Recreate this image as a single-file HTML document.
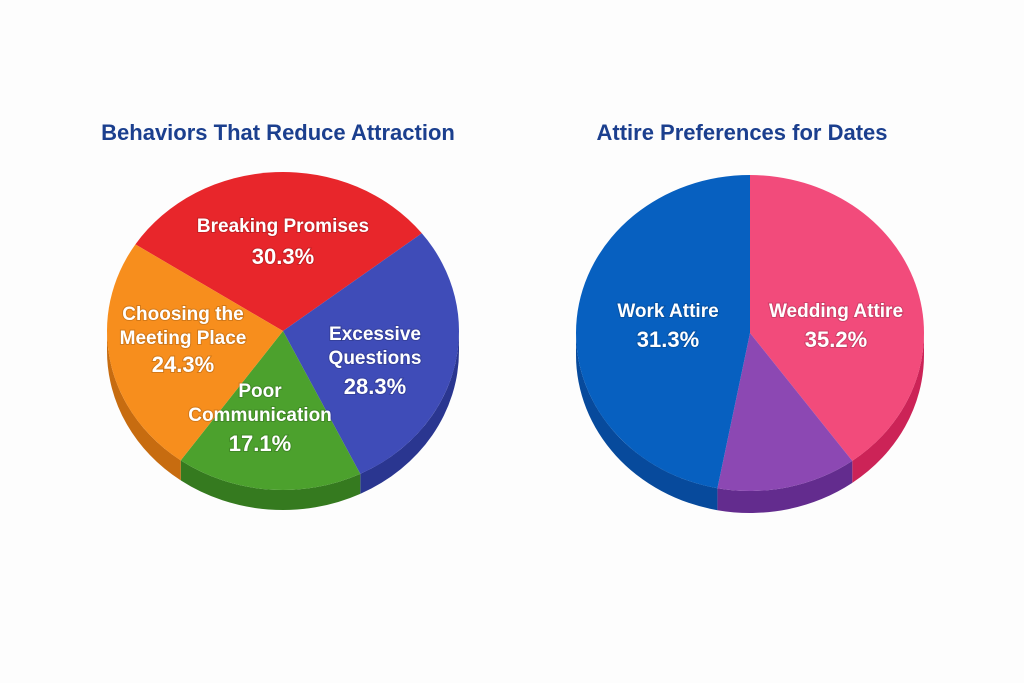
<!DOCTYPE html>
<html><head><meta charset="utf-8"><style>
html,body{margin:0;padding:0;background:#fdfdfd;}
svg{display:block;font-family:"Liberation Sans",sans-serif;}
.t{fill:#1b3f8e;font-weight:bold;font-size:22px;text-anchor:middle;}
.l{fill:#fff;font-weight:bold;font-size:19px;text-anchor:middle;paint-order:stroke;stroke:rgba(0,0,0,0.15);stroke-width:2px;}
.p{font-size:22px;}
</style></head><body>
<svg id="c" width="1024" height="683" viewBox="0 0 1024 683">
<text class="t" x="278" y="140">Behaviors That Reduce Attraction</text>
<text class="t" x="742" y="140">Attire Preferences for Dates</text>
<g id="left"></g>
<g id="right"></g>
</svg>
<script>
// Left pie data
const leftCategories = ["Breaking Promises","Excessive Questions","Poor Communication","Choosing the Meeting Place"];
const leftValues = [30.3, 28.3, 17.1, 24.3];
// Right pie data (drawn shares)
const rightCategories = ["Wedding Attire","Other","Work Attire"];
const rightValues = [40, 13, 47];
const rightPrinted = ["35.2%", "", "31.3%"];

const NS="http://www.w3.org/2000/svg";
function mk(tag,attrs,parent){const e=document.createElementNS(NS,tag);for(const k in attrs)e.setAttribute(k,attrs[k]);parent.appendChild(e);return e;}
function drawPie(g,cfg,values,cats,tops,sides,prefix){
  const tot=values.reduce((a,b)=>a+b,0);
  const {cx,cy,rx,ry,d,start}=cfg;
  const pt=(a,dy)=>[cx+rx*Math.cos(a*Math.PI/180),cy+dy+ry*Math.sin(a*Math.PI/180)];
  let a=start;const arcs=[];
  values.forEach(v=>{const s=v/tot*360;arcs.push([a,a+s]);a+=s;});
  arcs.forEach((ar,i)=>{
    [-360,0,360].forEach(off=>{
      const s=Math.max(ar[0]+off,0),e=Math.min(ar[1]+off,180);
      if(e<=s)return;
      const p1=pt(s,0),p2=pt(e,0),p3=pt(e,d),p4=pt(s,d);
      const el=mk('path',{d:`M${p1} A${rx},${ry} 0 0 1 ${p2} L${p3} A${rx},${ry} 0 0 0 ${p4} Z`,fill:sides[i]},g);
      
      
    });
  });
  arcs.forEach((ar,i)=>{
    const p1=pt(ar[0],0),p2=pt(ar[1],0);const large=(ar[1]-ar[0])>180?1:0;
    const el=mk('path',{d:`M${cx},${cy} L${p1} A${rx},${ry} 0 ${large} 1 ${p2} Z`,fill:tops[i]},g);
    
    
  });
}
const L=document.getElementById('left'),R=document.getElementById('right');
drawPie(L,{cx:283,cy:331,rx:176,ry:159,d:20,start:-147},leftValues,leftCategories,
 ["#e8262b","#3f4cb8","#4ca12d","#f78e1d"],["#b81d22","#2a3690","#357a1f","#c76c10"],'left');
drawPie(R,{cx:750,cy:333,rx:174,ry:158,d:22,start:-90},rightValues,rightCategories,
 ["#f24b7b","#8c48b3","#0760c0"],["#cc2357","#632c8e","#074a9c"],'right');
function lbl(g,x,ys,lines,name){
  lines.forEach((t,i)=>{const e=mk('text',{x:x,y:ys[i],class:'l'+(/%$/.test(t)?' p':'')},g);e.textContent=t;
    
    });
}
const fmt=v=>v.toFixed(1)+'%';
lbl(L,283,[232,264],["Breaking Promises",fmt(leftValues[0])],'label-breaking-promises');
lbl(L,183,[320,344,372],["Choosing the","Meeting Place",fmt(leftValues[3])],'label-choosing-meeting-place');
lbl(L,375,[340,364,394],["Excessive","Questions",fmt(leftValues[1])],'label-excessive-questions');
lbl(L,260,[397,421,451],["Poor","Communication",fmt(leftValues[2])],'label-poor-communication');
lbl(R,668,[317,347],["Work Attire",rightPrinted[2]],'label-work-attire');
lbl(R,836,[317,347],["Wedding Attire",rightPrinted[0]],'label-wedding-attire');
</script>
</body></html>
